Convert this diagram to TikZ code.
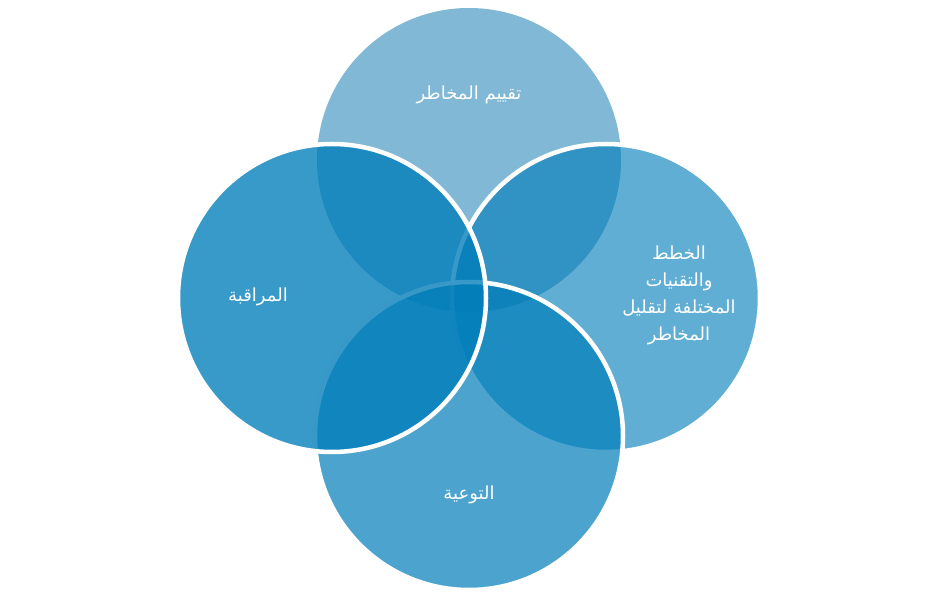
\documentclass[tikz,border=0pt]{standalone}
\usepackage{fontspec}
\usepackage{xcolor}
\usepackage{tikz}
\usetikzlibrary{positioning}
\newfontfamily\arabicfont[Script=Arabic]{DejaVu Sans}
\TeXXeTstate=1
\definecolor{vennblue}{RGB}{0,125,185}
\definecolor{venntop}{RGB}{128,184,213}

\begin{document}
\begin{tikzpicture}[x=1pt,y=1pt,
  venn/.style={circle, draw=white, line width=4.5pt, minimum size=308pt, inner sep=0pt},
  lbl/.style={text=white, font=\arabicfont\fontsize{18}{27}\selectfont, align=center}]
\useasboundingbox (0,0) rectangle (938,597);
% the four circles, back to front
\node[venn, draw=none, minimum size=304pt, fill=venntop] (risk) at (469,437) {};
\node[venn, fill=vennblue, fill opacity=0.62] (plans) at (606,299) {};
\node[venn, fill=vennblue, fill opacity=0.70] (aware) at (469,161) {};
\node[venn, fill=vennblue, fill opacity=0.78] (watch) at (332,299) {};
% labels
\node[lbl] (risktext) at (469,502) {\beginR تقييم المخاطر\endR};
\node[lbl] (watchtext) at (258,300) {\beginR المراقبة\endR};
\node[lbl] (planstext) at (679,302) {\beginR الخطط\endR\\ \beginR والتقنيات\endR\\ \beginR المختلفة لتقليل\endR\\ \beginR المخاطر\endR};
\node[lbl] (awaretext) at (469,102) {\beginR التوعية\endR};
\end{tikzpicture}
\end{document}
